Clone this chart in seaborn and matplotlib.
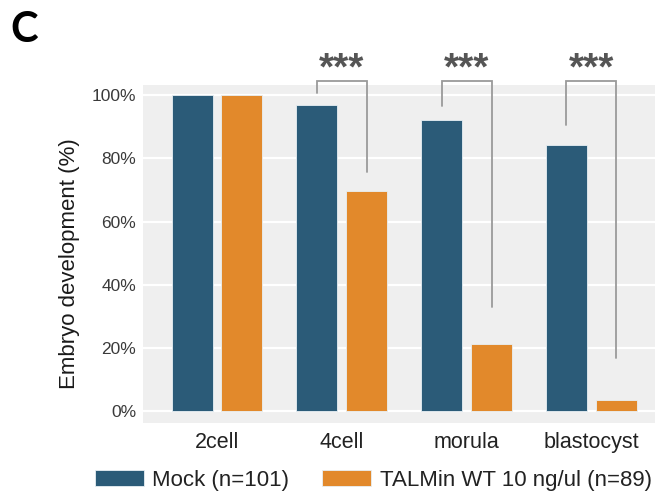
import numpy as np
import pandas as pd
import seaborn as sns
import matplotlib.pyplot as plt

# --- data ---
stages = ["2cell", "4cell", "morula", "blastocyst"]
mock_pct = [100.0, 97.0, 92.1, 84.2]
talmin_pct = [100.0, 69.7, 21.3, 3.4]
groups = ["Mock (n=101)", "TALMin WT 10 ng/ul (n=89)"]

# significance brackets (stage index, left leg end, right leg end), in %
sig_stages = [1, 2, 3]
sig_left_end = [100.6, 96.5, 90.5]
sig_right_end = [75.6, 32.9, 16.9]
sig_top = 104.5
sig_label = "***"

colors = ["#2b5b78", "#e2892b"]

df = pd.DataFrame({
    "stage": stages * 2,
    "pct": mock_pct + talmin_pct,
    "group": [groups[0]] * len(stages) + [groups[1]] * len(stages),
})

sns.set_style("darkgrid", {"axes.facecolor": "#efefef", "grid.color": "white"})
plt.rcParams["font.family"] = ["Liberation Sans", "DejaVu Sans"]

fig = plt.figure(figsize=(6.57, 4.95), dpi=100)
ax = fig.add_axes([0.2177, 0.146, 0.7793, 0.682])

sns.barplot(
    data=df, x="stage", y="pct", hue="group", order=stages, hue_order=groups,
    palette=colors, saturation=1, width=0.8, gap=0.178, ax=ax,
    edgecolor="#e8f0f4", linewidth=0.6, legend=True,
)

ax.set_xlim(-0.593, 3.51)
ax.set_ylim(-3.7, 103.2)
ax.set_yticks([0, 20, 40, 60, 80, 100])
ax.set_yticklabels([f"{v}%" for v in [0, 20, 40, 60, 80, 100]])
ax.grid(axis="y", color="white", linewidth=1.6)
ax.grid(axis="x", visible=False)
for s in ax.spines.values():
    s.set_visible(False)

ax.tick_params(axis="y", length=0, pad=5, labelsize=12.5, labelcolor="#3a3a3a")
ax.tick_params(axis="x", length=0, pad=7, labelsize=15.5, labelcolor="#222222")
ax.set_xlabel("")
ax.set_ylabel("Embryo development (%)", fontsize=16, color="#1a1a1a")
ax.yaxis.set_label_coords(-0.123, 0.47)

# --- significance brackets ---
offset = 0.2
for i, yl, yr in zip(sig_stages, sig_left_end, sig_right_end):
    xl, xr = i - offset, i + offset
    ax.plot([xl, xl, xr, xr], [yl, sig_top, sig_top, yr],
            color="#9a9a9a", lw=1.3, clip_on=False, solid_joinstyle="miter")
    ax.text(i, sig_top + 0.6, sig_label, ha="center", va="baseline",
            fontsize=28, fontweight="bold", color="#555555", clip_on=False)

# --- legend ---
ax.legend_.remove()
handles, labels = ax.get_legend_handles_labels()
fig.legend(
    handles, labels, loc="center left", bbox_to_anchor=(0.1446, 0.0295),
    ncol=2, frameon=False, fontsize=16, handlelength=2.2, handleheight=0.69,
    handletextpad=0.37, columnspacing=1.5, borderpad=0, borderaxespad=0,
    labelcolor="#222222",
)

fig.text(0.016, 0.915, "C", fontsize=30, fontweight="bold", family=["Lato", "DejaVu Sans"],
         ha="left", va="baseline", color="black")

fig.savefig("out.png", dpi=100)
